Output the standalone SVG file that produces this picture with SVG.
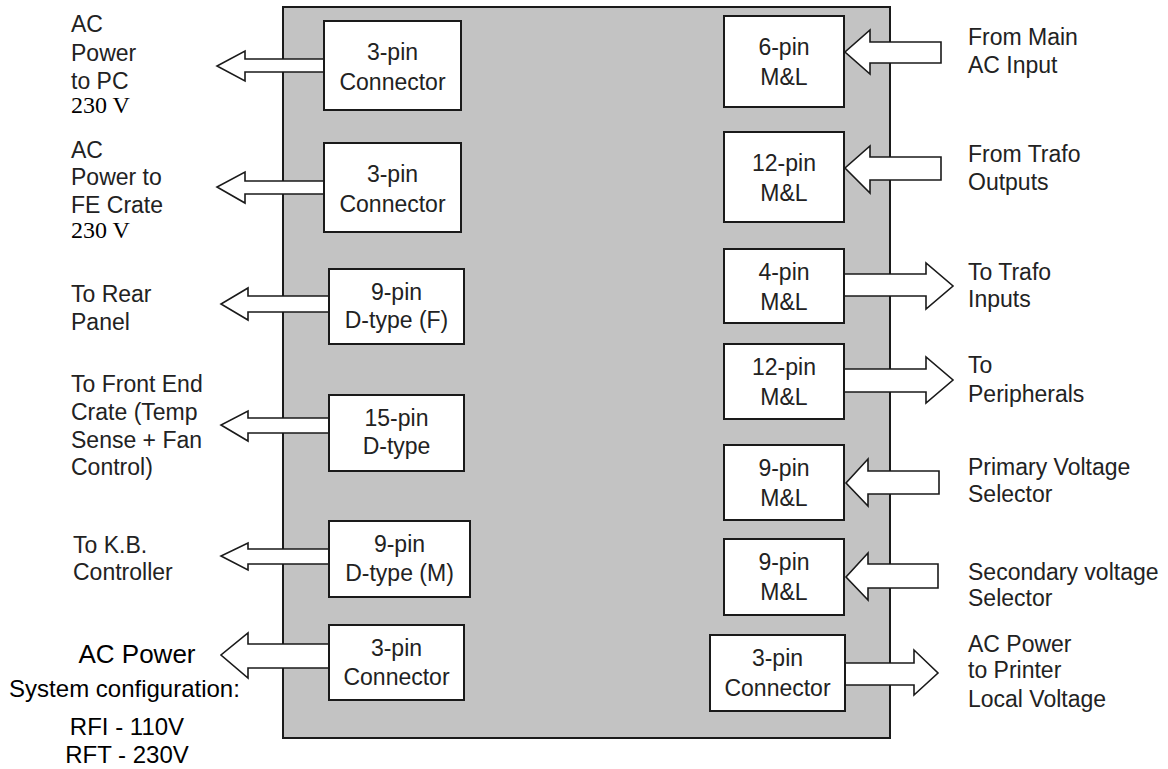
<svg xmlns="http://www.w3.org/2000/svg" width="1168" height="769" viewBox="0 0 1168 769">
<style>
.lbl{font-family:"Liberation Sans",Arial,sans-serif;font-size:23px;fill:#222}
.bx{fill:#fff;stroke:#1a1a1a;stroke-width:2}
.bt{font-family:"Liberation Sans",Arial,sans-serif;font-size:23px;fill:#222;text-anchor:middle}
.ser{font-family:"Liberation Serif","Times New Roman",serif;font-size:24px;fill:#000}
.big{font-family:"Liberation Sans",Arial,sans-serif;fill:#000;text-anchor:middle}
.arr{fill:#fff;stroke:#1a1a1a;stroke-width:1.6;stroke-linejoin:miter}
</style>
<rect width="1168" height="769" fill="#fff"/>
<rect id="panel" x="283" y="7" width="607" height="731" fill="#c3c3c3" stroke="#1a1a1a" stroke-width="2"/>

<g id="connectors">
<polygon class="arr" points="324,59 245,59 245,51 217,66 245,81 245,72 324,72"/>
<polygon class="arr" points="324,181 245,181 245,172 217,187 245,203 245,194 324,194"/>
<polygon class="arr" points="329,296 248,296 248,288 221,304 248,320 248,312 329,312"/>
<polygon class="arr" points="329,418 248,418 248,411 221,425 248,441 248,433 329,433"/>
<polygon class="arr" points="329,549 248,549 248,543 221,556 248,570 248,564 329,564"/>
<polygon class="arr" points="329,644 248,644 248,633 221,655 248,678 248,668 329,668"/>
<polygon class="arr" points="941,42 870,42 870,30 845,52 870,74 870,63 941,63"/>
<polygon class="arr" points="941,157 870,157 870,146 845,168 870,193 870,180 941,180"/>
<polygon class="arr" points="844,274 926,274 926,263 953,286 926,309 926,296 844,296"/>
<polygon class="arr" points="844,369 926,369 926,357 953,380 926,403 926,392 844,392"/>
<polygon class="arr" points="939,471 868,471 868,459 846,483 868,506 868,494 939,494"/>
<polygon class="arr" points="938,564 868,564 868,553 846,577 868,600 868,588 938,588"/>
<polygon class="arr" points="845,663 914,663 914,650 938,673 914,695 914,685 845,685"/>
</g>

<g id="L1"><rect class="bx" x="324" y="21" width="137" height="89"/><text class="bt" x="392.5" y="60">3-pin</text><text class="bt" x="392.5" y="90">Connector</text></g>
<g id="L2"><rect class="bx" x="324" y="143" width="137" height="89"/><text class="bt" x="392.5" y="182">3-pin</text><text class="bt" x="392.5" y="212">Connector</text></g>
<g id="L3"><rect class="bx" x="329" y="269" width="135" height="75"/><text class="bt" x="396.5" y="300">9-pin</text><text class="bt" x="396.5" y="328">D-type (F)</text></g>
<g id="L4"><rect class="bx" x="329" y="395" width="135" height="76"/><text class="bt" x="396.5" y="426">15-pin</text><text class="bt" x="396.5" y="454">D-type</text></g>
<g id="L5"><rect class="bx" x="329" y="521" width="141" height="76"/><text class="bt" x="399.5" y="552">9-pin</text><text class="bt" x="399.5" y="581">D-type (M)</text></g>
<g id="L6"><rect class="bx" x="329" y="625" width="135" height="75"/><text class="bt" x="396.5" y="656">3-pin</text><text class="bt" x="396.5" y="685">Connector</text></g>

<g id="R1"><rect class="bx" x="724" y="16" width="120" height="91"/><text class="bt" x="784" y="55">6-pin</text><text class="bt" x="784" y="85">M&amp;L</text></g>
<g id="R2"><rect class="bx" x="724" y="132" width="120" height="90"/><text class="bt" x="784" y="171">12-pin</text><text class="bt" x="784" y="201">M&amp;L</text></g>
<g id="R3"><rect class="bx" x="724" y="249" width="120" height="74"/><text class="bt" x="784" y="280">4-pin</text><text class="bt" x="784" y="310">M&amp;L</text></g>
<g id="R4"><rect class="bx" x="724" y="344" width="120" height="75"/><text class="bt" x="784" y="375">12-pin</text><text class="bt" x="784" y="405">M&amp;L</text></g>
<g id="R5"><rect class="bx" x="724" y="445" width="120" height="75"/><text class="bt" x="784" y="476">9-pin</text><text class="bt" x="784" y="506">M&amp;L</text></g>
<g id="R6"><rect class="bx" x="724" y="539" width="120" height="76"/><text class="bt" x="784" y="570">9-pin</text><text class="bt" x="784" y="600">M&amp;L</text></g>
<g id="R7"><rect class="bx" x="710" y="635" width="135" height="76"/><text class="bt" x="777.5" y="666">3-pin</text><text class="bt" x="777.5" y="696">Connector</text></g>

<g id="labels-left">
<text class="lbl" x="71" y="32">AC</text><text class="lbl" x="71" y="61">Power</text><text class="lbl" x="71" y="89">to PC</text>
<text class="ser" x="71" y="113">230 V</text>
<text class="lbl" x="71" y="158">AC</text><text class="lbl" x="71" y="185">Power to</text><text class="lbl" x="71" y="213">FE Crate</text>
<text class="ser" x="71" y="238">230 V</text>
<text class="lbl" x="71" y="302">To Rear</text><text class="lbl" x="71" y="330">Panel</text>
<text class="lbl" x="71" y="392">To Front End</text><text class="lbl" x="71" y="420">Crate (Temp</text><text class="lbl" x="71" y="448">Sense + Fan</text><text class="lbl" x="71" y="475">Control)</text>
<text class="lbl" x="73" y="553">To K.B.</text><text class="lbl" x="73" y="580">Controller</text>
<text class="big" x="137" y="663" font-size="26">AC Power</text>
<text class="big" x="124.5" y="697" font-size="24">System configuration:</text>
<text class="big" x="127" y="735" font-size="24">RFI - 110V</text>
<text class="big" x="127" y="763" font-size="24">RFT - 230V</text>
</g>

<g id="labels-right">
<text class="lbl" x="968" y="45">From Main</text><text class="lbl" x="968" y="73">AC Input</text>
<text class="lbl" x="968" y="162">From Trafo</text><text class="lbl" x="968" y="190">Outputs</text>
<text class="lbl" x="968" y="280">To Trafo</text><text class="lbl" x="968" y="307">Inputs</text>
<text class="lbl" x="968" y="373">To</text><text class="lbl" x="968" y="402">Peripherals</text>
<text class="lbl" x="968" y="475">Primary Voltage</text><text class="lbl" x="968" y="502">Selector</text>
<text class="lbl" x="968" y="580">Secondary voltage</text><text class="lbl" x="968" y="606">Selector</text>
<text class="lbl" x="968" y="652">AC Power</text><text class="lbl" x="968" y="678">to Printer</text><text class="lbl" x="968" y="707">Local Voltage</text>
</g>
</svg>
